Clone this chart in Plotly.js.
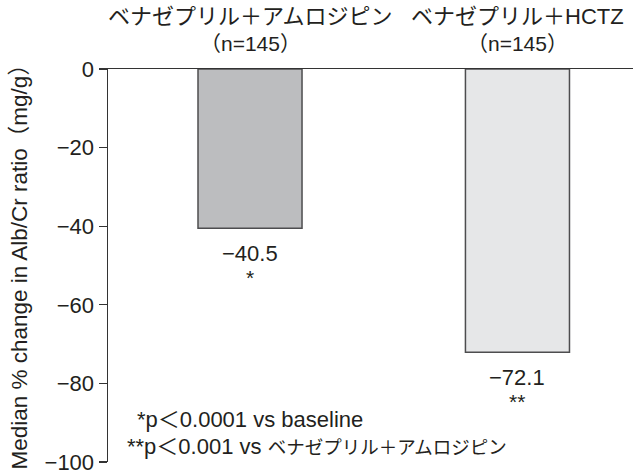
<!DOCTYPE html>
<html>
<head>
<meta charset="utf-8">
<script src="https://cdn.plot.ly/plotly-3.0.1.min.js"></script>
<style>
  html, body { margin: 0; padding: 0; background: #ffffff; }
  #chart { width: 633px; height: 476px; }
</style>
</head>
<body>
<div id="chart"></div>
<script>
// Treatment groups and their median % change in albumin/creatinine ratio
const groups = ['ベナゼプリル＋アムロジピン', 'ベナゼプリル＋HCTZ'];
const groupN = ['（n=145）', '（n=145）'];
const medianChange = [-40.5, -72.1];
const valueLabels = ['−40.5', '−72.1'];
const significance = ['*', '**'];
const barColors = ['#bcbdbf', '#e6e7e8'];

const yTickVals = [0, -20, -40, -60, -80, -100];
const yTickText = ['0', '−20', '−40', '−60', '−80', '−100'];

const footnoteMarks = ['*', '**'];
const footnoteStats = ['p＜0.0001 vs baseline', 'p＜0.001 vs '];
const footnoteRefs = ['', 'ベナゼプリル＋アムロジピン'];

const ink = '#231f20';
const FONT = 'Liberation Sans, Arial, Noto Sans CJK JP, sans-serif';

const trace = {
  type: 'bar',
  x: groups,
  y: medianChange,
  width: 0.389,
  marker: {
    color: barColors,
    line: { color: '#4d4d4f', width: 1.5 }
  },
  hoverinfo: 'skip'
};

const annotations = [];

// group names above the plot, with group sizes underneath
groups.forEach((g, i) => {
  annotations.push({
    x: g, xref: 'x', y: 1, yref: 'paper',
    yanchor: 'bottom', xanchor: 'center', yshift: 38,
    text: g, showarrow: false,
    font: { family: FONT, size: 22, color: ink }
  });
  annotations.push({
    x: g, xref: 'x', y: 1, yref: 'paper',
    yanchor: 'bottom', xanchor: 'center', yshift: 12,
    text: groupN[i], showarrow: false,
    font: { family: FONT, size: 21, color: ink }
  });
  // value and significance marks below each bar
  annotations.push({
    x: g, xref: 'x', y: medianChange[i], yref: 'y',
    yanchor: 'middle', xanchor: 'center', yshift: -25,
    text: valueLabels[i], showarrow: false,
    font: { family: FONT, size: 22, color: ink }
  });
  annotations.push({
    x: g, xref: 'x', y: medianChange[i], yref: 'y',
    yanchor: 'middle', xanchor: 'center', yshift: -49,
    text: significance[i], showarrow: false,
    font: { family: FONT, size: 21, color: ink }
  });
});

// footnotes in the lower-left of the plot
const footX = [27, 17];
const footShift = [-36, -63];
footnoteMarks.forEach((m, i) => {
  let txt = m + footnoteStats[i];
  if (footnoteRefs[i]) {
    txt += '<span style="font-size:18.5px">' + footnoteRefs[i] + '</span>';
  }
  annotations.push({
    x: footX[i] / 525, xref: 'paper', y: -80, yref: 'y',
    xanchor: 'left', yanchor: 'middle', yshift: footShift[i],
    text: txt, showarrow: false,
    font: { family: FONT, size: 22, color: ink }
  });
});

// y-axis title
annotations.push({
  x: -88 / 525, xref: 'paper', y: 0.51, yref: 'paper',
  xanchor: 'center', yanchor: 'middle', textangle: -90,
  text: 'Median % change in Alb/Cr ratio（mg/g）', showarrow: false,
  font: { family: FONT, size: 22.5, color: ink }
});

const layout = {
  width: 633,
  height: 476,
  margin: { l: 108, r: 0, t: 69, b: 14 },
  paper_bgcolor: '#ffffff',
  plot_bgcolor: '#ffffff',
  showlegend: false,
  font: { family: FONT, color: ink },
  xaxis: {
    type: 'category',
    range: [-0.531, 1.432],
    side: 'top',
    showline: true, linecolor: '#333333', linewidth: 1.5,
    showticklabels: false, ticks: '', showgrid: false, zeroline: false,
    fixedrange: true
  },
  yaxis: {
    range: [-100, 0],
    tickvals: yTickVals,
    ticktext: yTickText,
    ticks: 'outside', ticklen: 8, tickwidth: 1.2, tickcolor: '#333333',
    showline: true, linecolor: '#333333', linewidth: 1.5,
    showgrid: false, zeroline: false,
    tickfont: { family: FONT, size: 22, color: ink },
    fixedrange: true
  },
  annotations: annotations
};

Plotly.newPlot('chart', [trace], layout, { displayModeBar: false, staticPlot: true });
</script>
</body>
</html>
